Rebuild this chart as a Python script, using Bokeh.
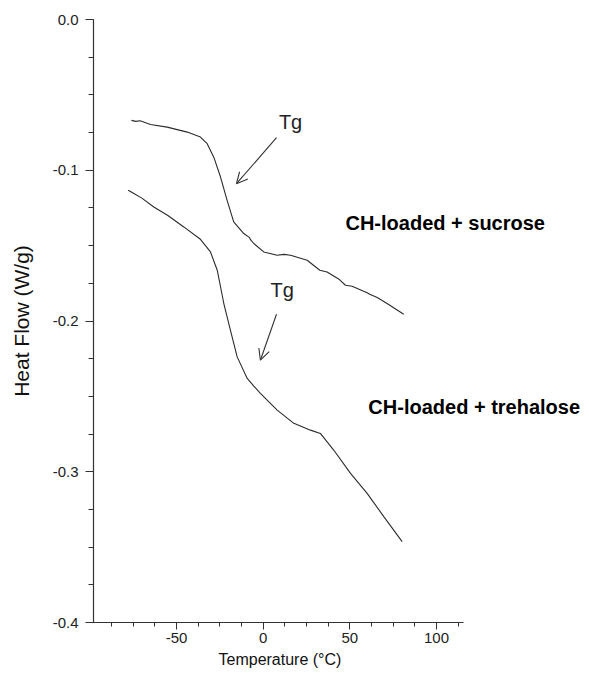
from bokeh.plotting import figure
from bokeh.models import FixedTicker, Arrow, OpenHead, LinearAxis, Range1d, Title
from bokeh.core.properties import value
from bokeh.embed import file_html
from bokeh.resources import INLINE

# ---- data ----
sucrose_T = [-76.0, -73.5, -71.0, -65.0, -55.4, -43.8, -36.2, -32.3, -28.5, -24.6, -20.8,
             -17.0, -11.2, -8.0, -7.2, -5.4, 0.3, 8.1, 12.0, 15.8, 25.4, 32.7, 36.9,
             44.0, 47.5, 51.3, 60.0, 61.5, 65.8, 71.5, 81.1]
sucrose_HF = [-0.0669, -0.0676, -0.0672, -0.0696, -0.0714, -0.0747, -0.0780, -0.0824,
              -0.0913, -0.1045, -0.1200, -0.1343, -0.1420, -0.1445, -0.1462, -0.1486,
              -0.1542, -0.1564, -0.1558, -0.1564, -0.1597, -0.1663, -0.1675, -0.1725,
              -0.1763, -0.1769, -0.1812, -0.1822, -0.1844, -0.1884, -0.1955]

trehalose_T = [-77.9, -74.8, -70.0, -63.1, -55.0, -45.8, -36.2, -30.4, -26.5, -22.7, -18.9,
               -15.0, -9.2, -5.5, -1.6, 8.1, 17.7, 27.3, 33.0, 40.7, 50.4, 60.0, 69.6, 80.2]
trehalose_HF = [-0.1133, -0.1153, -0.1185, -0.1244, -0.1300, -0.1376, -0.1458, -0.1542,
                -0.1663, -0.1884, -0.2061, -0.2238, -0.2381, -0.2430, -0.2480, -0.2591,
                -0.2679, -0.2724, -0.2746, -0.2856, -0.3011, -0.3143, -0.3298, -0.3464]

x_ticks = [-50, 0, 50, 100]
x_labels = ["-50", "0", "50", "100"]
x_minor = [-87.5, -75, -62.5, -50, -37.5, -25, -12.5, 0, 12.5, 25, 37.5, 50,
           62.5, 75, 87.5, 100, 112.5]
y_ticks = [0.0, -0.1, -0.2, -0.3, -0.4]
y_labels = ["0.0", "-0.1", "-0.2", "-0.3", "-0.4"]
y_minor = [0.0, -0.025, -0.05, -0.075, -0.1, -0.125, -0.15, -0.175, -0.2, -0.225,
           -0.25, -0.275, -0.3, -0.325, -0.35, -0.375, -0.4]

# annotations
tg_T = [15.8, 11.0]
tg_HF = [-0.068, -0.1796]
tg_text = ["Tg", "Tg"]
arrow_start = [(7.7, -0.0784), (7.7, -0.1955)]
arrow_end = [(-15.4, -0.1089), (-1.6, -0.226)]
sample_T = [47.5, 60.7]
sample_HF = [-0.135, -0.257]
sample_text = ["CH-loaded + sucrose", "CH-loaded + trehalose"]

FONT = "Liberation Sans"
AX = "#333333"

p = figure(width=589, height=678, output_backend="svg", toolbar_location=None,
           x_range=Range1d(-97.9, 188.3), y_range=Range1d(-0.4, 0.0),
           min_border_left=93, min_border_right=0, min_border_top=19, min_border_bottom=56,
           x_axis_location=None, y_axis_location=None)
p.outline_line_color = None
p.xgrid.visible = False
p.ygrid.visible = False
p.background_fill_color = "white"
p.border_fill_color = "white"

xa = LinearAxis(bounds=(-97.9, 115.6))
xa.ticker = FixedTicker(ticks=x_ticks, minor_ticks=x_minor)
xa.major_label_overrides = {t: l for t, l in zip(x_ticks, x_labels)}
ya = LinearAxis(axis_label="Heat Flow (W/g)", bounds=(-0.4, 0.0))
ya.ticker = FixedTicker(ticks=y_ticks, minor_ticks=y_minor)
ya.major_label_overrides = {t: l for t, l in zip(y_ticks, y_labels)}

for ax in (xa, ya):
    ax.axis_line_color = AX
    ax.axis_line_width = 1.2
    ax.major_tick_line_color = AX
    ax.minor_tick_line_color = AX
    ax.major_tick_in = 0
    ax.minor_tick_in = 0
    ax.major_label_text_font = FONT
    ax.major_label_text_font_size = "15px"
    ax.major_label_text_color = "#222222"
    ax.axis_label_text_font = FONT
    ax.axis_label_text_font_style = "normal"
    ax.axis_label_text_color = "#111111"

xa.major_tick_out = 7
xa.minor_tick_out = 4
xa.major_label_standoff = 3
ya.major_tick_out = 8
ya.minor_tick_out = 5
ya.major_label_standoff = 7
ya.axis_label_standoff = 17
ya.axis_label_text_font_size = "21px"

p.add_layout(xa, "below")
p.add_layout(ya, "left")
p.add_layout(Title(text="Temperature (°C)", align="left", offset=125,
                   text_font=FONT, text_font_size="16px", text_font_style="normal",
                   text_color="#111111", standoff=7), "below")

p.line(sucrose_T, sucrose_HF, line_color="#2b2b2b", line_width=1.1)
p.line(trehalose_T, trehalose_HF, line_color="#2b2b2b", line_width=1.1)

for (x0, y0), (x1, y1) in zip(arrow_start, arrow_end):
    p.add_layout(Arrow(end=OpenHead(size=11, line_color="#333333", line_width=1.1),
                       x_start=x0, y_start=y0, x_end=x1, y_end=y1,
                       line_color="#333333", line_width=1.1))

p.text(tg_T, tg_HF, text=tg_text, text_font=value(FONT), text_font_size="20px",
       text_align="center", text_baseline="middle", text_color="#222222")
p.text(sample_T, sample_HF, text=sample_text, text_font=value(FONT), text_font_size="20px",
       text_font_style="bold", text_align="left", text_baseline="middle", text_color="#000000")

open("out.html", "w").write(file_html(p, INLINE))
